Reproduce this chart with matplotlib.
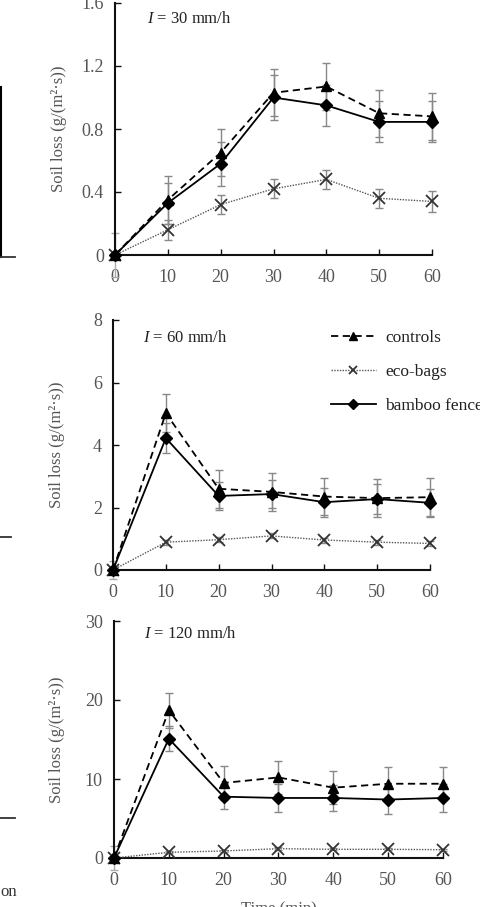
import matplotlib
matplotlib.use("Agg")
import matplotlib.pyplot as plt
from matplotlib.lines import Line2D
import numpy as np

plt.rcParams['font.family'] = ['Liberation Serif', 'DejaVu Serif']
plt.rcParams['mathtext.fontset'] = 'custom'
plt.rcParams['mathtext.it'] = 'Liberation Serif:italic'
plt.rcParams['mathtext.rm'] = 'Liberation Serif'

time = [0, 10, 20, 30, 40, 50, 60]

# Panel 1: I = 30 mm/h
c30 = [0, 0.35, 0.65, 1.03, 1.07, 0.90, 0.88]
c30_err = [0.14, 0.15, 0.15, 0.15, 0.15, 0.15, 0.15]
e30 = [0, 0.16, 0.32, 0.42, 0.48, 0.36, 0.34]
e30_err = [0.0, 0.065, 0.06, 0.06, 0.06, 0.06, 0.065]
b30 = [0, 0.33, 0.58, 1.00, 0.95, 0.845, 0.845]
b30_err = [0.07, 0.13, 0.14, 0.14, 0.13, 0.13, 0.13]

# Panel 2: I = 60 mm/h
c60 = [0, 5.02, 2.6, 2.5, 2.35, 2.3, 2.33]
c60_err = [0.3, 0.6, 0.6, 0.6, 0.6, 0.6, 0.6]
e60 = [0, 0.89, 0.97, 1.09, 0.96, 0.89, 0.85]
e60_err = [0.0, 0.08, 0.08, 0.08, 0.08, 0.08, 0.08]
b60 = [0, 4.22, 2.37, 2.43, 2.17, 2.27, 2.15]
b60_err = [0.1, 0.47, 0.45, 0.45, 0.47, 0.47, 0.45]

# Panel 3: I = 120 mm/h
c120 = [0, 18.7, 9.5, 10.2, 8.9, 9.4, 9.4]
c120_err = [1.5, 2.2, 2.1, 2.1, 2.1, 2.1, 2.1]
e120 = [0, 0.72, 0.89, 1.18, 1.1, 1.1, 1.05]
e120_err = [0.0, 0.15, 0.15, 0.15, 0.15, 0.15, 0.15]
b120 = [0, 15.1, 7.76, 7.6, 7.6, 7.4, 7.6]
b120_err = [0.3, 1.6, 1.6, 1.8, 1.6, 1.8, 1.8]

panels = [
    dict(c=c30, ce=c30_err, e=e30, ee=e30_err, b=b30, be=b30_err,
         ylim=(0, 1.6), yticks=[0, 0.4, 0.8, 1.2, 1.6], yticklabels=['0', '0.4', '0.8', '1.2', '1.6'],
         title='$I$ = 30 mm/h', pos=[115/481, (907-255)/907, 317/481, 252/907], tpos=(0.10, 0.935)),
    dict(c=c60, ce=c60_err, e=e60, ee=e60_err, b=b60, be=b60_err,
         ylim=(0, 8), yticks=[0, 2, 4, 6, 8], yticklabels=['0', '2', '4', '6', '8'],
         title='$I$ = 60 mm/h', pos=[113/481, (907-570)/907, 317/481, 250/907], tpos=(0.095, 0.93)),
    dict(c=c120, ce=c120_err, e=e120, ee=e120_err, b=b120, be=b120_err,
         ylim=(0, 30), yticks=[0, 10, 20, 30], yticklabels=['0', '10', '20', '30'],
         title='$I$ = 120 mm/h', pos=[114/481, (907-858)/907, 329/481, 237/907], tpos=(0.09, 0.945)),
]

fig = plt.figure(figsize=(4.81, 9.07), dpi=100)
txtc = '#555555'
errc = '#888888'

for i, p in enumerate(panels):
    ax = fig.add_axes(p['pos'])
    for vals, errs in ((p['c'], p['ce']), (p['b'], p['be']), (p['e'], p['ee'])):
        ax.errorbar(time[1:], vals[1:], yerr=errs[1:], fmt='none', ecolor=errc, elinewidth=1,
                    capsize=3, capthick=1, clip_on=False)
    ax.errorbar(time[:1], p['c'][:1], yerr=p['ce'][:1], fmt='none', ecolor='#aaaaaa', elinewidth=1,
                capsize=3, capthick=1, clip_on=False)
    ax.plot(time, p['c'], color='black', ls=(0, (4, 2.5)), lw=1.3, marker='^', ms=7.5, mfc='black', mec='black',
            clip_on=False, label='controls', zorder=4)
    ax.plot(time, p['e'], color='#555555', ls=(0, (1, 1)), lw=1.0, marker='x', ms=8, mew=1.3, mec='#333333',
            clip_on=False, label='eco-bags', zorder=3)
    ax.plot(time, p['b'], color='black', ls='-', lw=1.3, marker='D', ms=6, mfc='black', mec='black',
            clip_on=False, label='bamboo fences', zorder=5)
    ax.set_xlim(0, 60)
    ax.set_ylim(*p['ylim'])
    ax.set_xticks(time)
    ax.set_yticks(p['yticks'])
    ax.set_yticklabels(p['yticklabels'])
    for s in ['top', 'right']:
        ax.spines[s].set_visible(False)
    for s in ['left', 'bottom']:
        ax.spines[s].set_linewidth(1.5)
        ax.spines[s].set_color('#111111')
    ax.tick_params(axis='both', direction='in', length=4, width=1, colors='#111111', labelcolor=txtc, labelsize=13)
    ax.tick_params(axis='x', pad=10)
    ax.tick_params(axis='y', pad=8)
    ax.set_ylabel('Soil loss (g/(m²·s))', fontsize=12, color=txtc)
    ax.yaxis.set_label_coords(-0.15, 0.5)
    ax.text(p['tpos'][0], p['tpos'][1], p['title'], transform=ax.transAxes, fontsize=12,
            color='#222222', ha='left', va='center')
    if i == 1:
        leg = ax.legend(loc='upper left', bbox_to_anchor=(0.665, 0.99), frameon=False, fontsize=12.5,
                        handlelength=2.6, labelspacing=1.05, handletextpad=0.55, borderaxespad=0)
        for t in leg.get_texts():
            t.set_color('#222222')
        for h in leg.legend_handles:
            h.set_markersize(5.5)
    if i == 2:
        ax.set_xlabel('Time (min)', fontsize=12, color=txtc, labelpad=9)

# fragments of the neighbouring figure at the left edge
fig.add_artist(Line2D([1/481, 1/481], [1-87/907, 1-257/907], color='black', lw=1.5))
fig.add_artist(Line2D([0, 15/481], [1-257/907, 1-257/907], color='#333333', lw=1.3))
fig.add_artist(Line2D([0, 11/481], [1-537/907, 1-537/907], color='#333333', lw=1.3))
fig.add_artist(Line2D([0, 15/481], [1-818/907, 1-818/907], color='#333333', lw=1.3))
fig.text(0.0, 1-892/907, 'on', fontsize=12, color='#333333', ha='left', va='center')

fig.savefig('out.png', dpi=100)
